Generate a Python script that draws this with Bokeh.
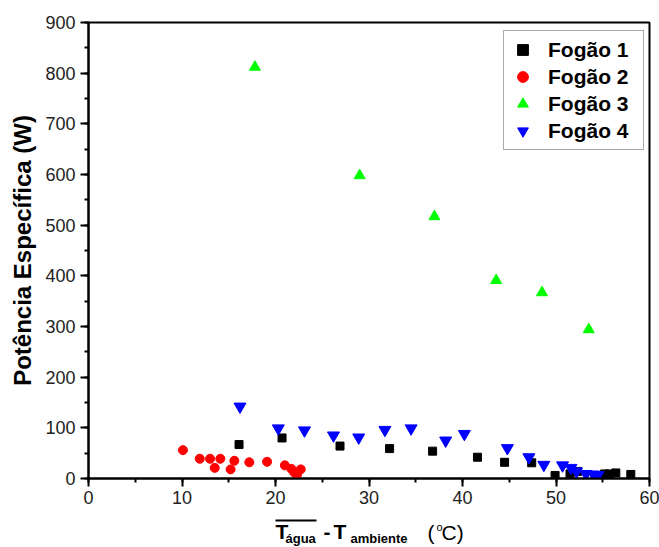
from bokeh.plotting import figure
from bokeh.layouts import column
from bokeh.models import Range1d, SingleIntervalTicker, Legend, LegendItem
from bokeh.core.properties import value
from bokeh.embed import file_html
from bokeh.resources import INLINE

# ---- data ----
f1_x = [16.1, 20.7, 26.9, 32.2, 36.8, 41.6, 44.5, 47.4, 49.9, 51.5, 52.3, 55.2, 55.7, 56.4, 58.0]
f1_y = [67, 80, 64, 59, 54, 42, 32, 31, 6, 9, 14, 9, 9, 11, 8]

f2_x = [10.1, 11.9, 13.0, 14.1, 13.5, 15.2, 15.6, 17.2, 19.1, 21.0, 21.7, 22.0, 22.3, 22.7]
f2_y = [56, 39, 39, 39, 21, 18, 35, 32, 33, 26, 19, 12, 8, 18]

f3_x = [17.8, 29.0, 37.0, 43.6, 48.5, 53.5]
f3_y = [812, 598, 517, 391, 367, 294]

f4_x = [16.2, 20.3, 23.1, 26.2, 28.9, 31.7, 34.5, 38.2, 40.2, 44.8, 47.1, 48.7, 50.7, 51.6, 52.2, 53.2, 54.0, 54.5]
f4_y = [142, 99, 95, 85, 81, 96, 99, 75, 88, 60, 42, 27, 26, 21, 14, 9, 8, 7]

series_names = ["Fogão 1", "Fogão 2", "Fogão 3", "Fogão 4"]
x_lim = (0, 60)
y_lim = (0, 900)
y_title = "Potência Específica (W)"

FONT = "Liberation Sans"

W = 659
H_MAIN = 513
H_TITLE = 547 - H_MAIN
ML, MR, MT, MB = 88, 10, 22, 35

p = figure(width=W, height=H_MAIN, x_range=Range1d(*x_lim), y_range=Range1d(*y_lim),
           output_backend="svg", toolbar_location=None,
           min_border_left=ML, min_border_right=MR, min_border_top=MT, min_border_bottom=MB)
p.grid.visible = False
p.outline_line_color = "black"
p.outline_line_width = 2
p.background_fill_color = "white"
p.border_fill_color = "white"

p.xaxis.ticker = SingleIntervalTicker(interval=10, num_minor_ticks=2)
p.yaxis.ticker = SingleIntervalTicker(interval=100, num_minor_ticks=2)
for ax in (p.xaxis, p.yaxis):
    ax.axis_line_width = 2
    ax.axis_line_color = "black"
    ax.major_tick_line_width = 2
    ax.minor_tick_line_width = 2
    ax.major_tick_out = 8
    ax.major_tick_in = 0
    ax.minor_tick_out = 4
    ax.minor_tick_in = 0
    ax.major_label_text_font = FONT
    ax.major_label_text_font_size = "18px"
    ax.major_label_text_color = "#222222"
    ax.major_label_standoff = 5
p.xaxis.major_label_standoff = 4

p.yaxis.axis_label = y_title
p.yaxis.axis_label_text_font = FONT
p.yaxis.axis_label_text_font_size = "24px"
p.yaxis.axis_label_text_font_style = "bold"
p.yaxis.axis_label_text_color = "black"
p.yaxis.axis_label_standoff = 6

r1 = p.scatter(f1_x, f1_y, marker="square", size=8, color="black")
r2 = p.scatter(f2_x, f2_y, marker="circle", size=9, color="#ff0000")
r3 = p.scatter(f3_x, f3_y, marker="triangle", size=11, color="#00ff00")
r4 = p.scatter(f4_x, f4_y, marker="inverted_triangle", size=12, color="#0000ff")

legend = Legend(items=[LegendItem(label=n, renderers=[r]) for n, r in zip(series_names, [r1, r2, r3, r4])],
                location=(415, 328))
legend.label_text_font = FONT
legend.label_text_font_size = "21px"
legend.label_text_font_style = "bold"
legend.label_text_color = "black"
legend.glyph_width = 27
legend.glyph_height = 27
legend.label_height = 27
legend.label_width = 90
legend.spacing = 0
legend.padding = 5
legend.margin = 0
legend.label_standoff = 12
legend.border_line_color = "#555555"
legend.border_line_width = 1.5
legend.background_fill_alpha = 1
p.add_layout(legend)

# ---- composed x-axis title in a strip below; its frame is aligned with the main frame,
#      so its ranges are set to page-pixel coordinates of that frame ----
t = figure(width=W, height=H_TITLE, x_range=Range1d(ML, W - MR), y_range=Range1d(547, H_MAIN),
           output_backend="svg", toolbar_location=None, x_axis_type=None, y_axis_type=None,
           min_border_left=ML, min_border_right=MR, min_border_top=0, min_border_bottom=0)
t.grid.visible = False
t.outline_line_color = None
t.background_fill_color = "white"
t.border_fill_color = "white"

def lab(x, y, txt, size, bold=True):
    t.text(x=[x], y=[y], text=[txt], text_font=value(FONT), text_font_size=value(size),
           text_font_style="bold" if bold else "normal", text_color="black",
           text_align="left", text_baseline="middle")

# vertical positions are text centres
lab(275, 531, "T", "21px")
lab(285, 538, "água", "13px")
lab(323, 531, "-", "21px")
lab(333, 531, "T", "21px")
lab(350, 538, "ambiente", "13px")
lab(427, 532, "(", "21px", bold=False)
lab(436, 526, "o", "11px", bold=False)
lab(441, 532, "C)", "21px", bold=False)
t.segment(x0=[275], y0=[520], x1=[316], y1=[520], line_width=2, line_color="black")

layout = column(p, t, spacing=0)
open("out.html", "w").write(file_html(layout, INLINE))
